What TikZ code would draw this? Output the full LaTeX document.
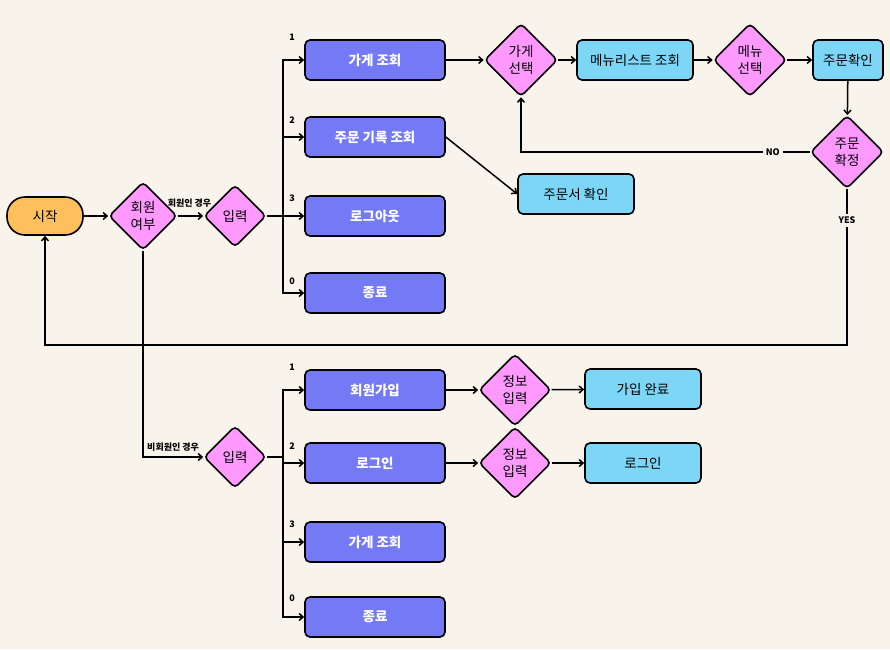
\documentclass[tikz,border=0pt]{standalone}
\usepackage{fontspec}
\setmainfont{Noto Sans CJK KR}
\usetikzlibrary{arrows.meta,calc,shapes.geometric}
\definecolor{FCBg}{HTML}{F8F4EC}
\definecolor{FCOrange}{HTML}{FFBF5C}
\definecolor{FCPink}{HTML}{FF99FF}
\definecolor{FCPurple}{HTML}{7479F5}
\definecolor{FCSky}{HTML}{7DD6F6}

\begin{document}
\begin{tikzpicture}[
    x=1pt, y=-1pt,
    fcstart/.style={
      draw=black,
      fill=FCOrange,
      line width=1.6pt,
      rounded corners=18pt,
      minimum width=76pt,
      minimum height=38pt,
      font=\fontsize{13.5}{16}\selectfont
    },
    fcbox/.style={
      draw=black,
      fill=FCPurple,
      line width=1.6pt,
      rounded corners=5pt,
      minimum width=140pt,
      minimum height=40pt,
      text=white,
      font=\fontsize{13.5}{16}\selectfont\bfseries
    },
    fcinfo/.style={
      draw=black,
      fill=FCSky,
      line width=1.6pt,
      rounded corners=5pt,
      minimum width=116pt,
      minimum height=40pt,
      font=\fontsize{13.5}{16}\selectfont
    },
    fcdecide/.style={
      draw=black,
      fill=FCPink,
      line width=1.6pt,
      diamond,
      rounded corners=4pt,
      inner sep=0pt,
      minimum width=#1,
      minimum height=#1,
      align=center,
      font=\fontsize{13.5}{16.5}\selectfont
    },
    fcdecide/.default=64pt,
    fclabel/.style={
      font=\fontsize{9}{10}\selectfont\bfseries,
      inner sep=1pt
    },
    fcarrow/.style={
      -{Straight Barb[length=4pt,width=7pt]},
      line width=1.5pt
    },
    fcline/.style={
      line width=1.5pt
    }
  ]

  % 배경
  \fill[FCBg] (0,0) rectangle (890,649);
  \useasboundingbox (0,0) rectangle (890,649);

  % 시작
  \node[fcstart] (start) at (45,216) {시작};
  \node[fcdecide=68pt] (member) at (143,216) {회원\\여부};
  \node[fcdecide=62pt] (inputA) at (235,216) {입력};

  % 회원 메뉴
  \node[fcbox] (shopA) at (375,60) {가게 조회};
  \node[fcbox] (history) at (375,137) {주문 기록 조회};
  \node[fcbox] (logout) at (375,216) {로그아웃};
  \node[fcbox] (quitA) at (375,293) {종료};

  \node[fcdecide=73pt] (shopsel) at (521,60) {가게\\선택};
  \node[fcinfo] (menulist) at (635,60) {메뉴리스트 조회};
  \node[fcdecide=73pt] (menusel) at (750,60) {메뉴\\선택};
  \node[fcinfo, minimum width=70pt] (ordchk) at (848,60) {주문확인};
  \node[fcdecide=73pt] (ordconf) at (847,152) {주문\\확정};
  \node[fcinfo] (receipt) at (576,194) {주문서 확인};

  % 비회원 메뉴
  \node[fcdecide=62pt] (inputB) at (235,457) {입력};
  \node[fcbox] (signup) at (375,390) {회원가입};
  \node[fcbox] (login) at (375,463) {로그인};
  \node[fcbox] (shopB) at (375,542) {가게 조회};
  \node[fcbox] (quitB) at (375,617) {종료};

  \node[fcdecide=72pt] (infoA) at (515,390) {정보\\입력};
  \node[fcdecide=72pt] (infoB) at (515,463) {정보\\입력};
  \node[fcinfo] (done) at (643,389) {가입 완료};
  \node[fcinfo] (loginok) at (643,463) {로그인};

  % 주 흐름
  \draw[fcarrow] (start) -- (member);
  \draw[fcarrow] (member) -- node[fclabel, above=7pt, xshift=-1pt] {회원인 경우} (inputA);

  % 회원 분기
  \coordinate (busA) at ($(inputA.east)+(16,0)$);
  \draw[fcline] (inputA.east) -- (busA);
  \foreach \dst/\num/\dy in {shopA/1/23, history/2/17, logout/3/18, quitA/0/12} {
    \draw[fcarrow] (busA) |- (\dst.west);
    \node[fclabel] at ($(\dst.west)+(-12,-\dy)$) {\num};
  }

  \draw[fcarrow] (shopA) -- (shopsel);
  \draw[fcarrow] (shopsel) -- (menulist);
  \draw[fcarrow] (menulist) -- (menusel);
  \draw[fcarrow] (menusel) -- (ordchk);
  \draw[fcarrow] (ordchk) -- (ordconf);
  \draw[fcarrow] (ordconf.west) -| node[fclabel, pos=0.064, fill=FCBg, inner sep=3pt] {NO} (shopsel.south);
  \draw[fcarrow] (history.east) -- (receipt.west);

  % 주문 확정 후 처음으로
  \coordinate (yesturn) at (847,345);
  \draw[fcarrow] (ordconf.south) -- node[fclabel, pos=0.2, fill=FCBg, inner sep=3pt] {YES} (yesturn) -| (start.south);

  % 비회원 분기
  \draw[fcarrow] (member.south) |- node[fclabel, pos=0.75, above=4pt] {비회원인 경우} (inputB.west);
  \coordinate (busB) at ($(inputB.east)+(16,0)$);
  \draw[fcline] (inputB.east) -- (busB);
  \foreach \dst/\num/\dy in {signup/1/23, login/2/17, shopB/3/18, quitB/0/19} {
    \draw[fcarrow] (busB) |- (\dst.west);
    \node[fclabel] at ($(\dst.west)+(-12,-\dy)$) {\num};
  }

  \draw[fcarrow] (signup) -- (infoA);
  \draw[fcarrow] (infoA) -- (done);
  \draw[fcarrow] (login) -- (infoB);
  \draw[fcarrow] (infoB) -- (loginok);

\end{tikzpicture}
\end{document}
